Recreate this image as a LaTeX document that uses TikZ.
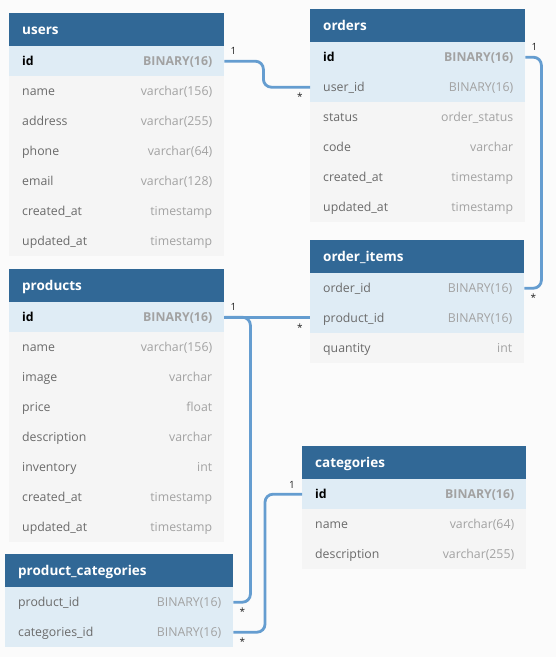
\documentclass[tikz,border=0pt]{standalone}
\usepackage{fontspec}
\setmainfont{Open Sans}
\definecolor{bgc}{HTML}{FBFBFB}
\definecolor{hdr}{HTML}{316896}
\definecolor{hlc}{HTML}{DFECF5}
\definecolor{rowc}{HTML}{F5F5F5}
\definecolor{namecol}{HTML}{6A6A6A}
\definecolor{typecol}{HTML}{A2A2A2}
\definecolor{connc}{HTML}{659DD0}
\definecolor{lblc}{HTML}{222222}
\newcommand\erow[7]{\node[erow,fill=#5,minimum width=#4,text width=#4pt] (#1) at (#2,#3) {\noindent\hspace*{13pt}\textcolor{namecol}{#6}\hfill\textcolor{typecol}{#7}\hspace*{12pt}\rule[-3.5pt]{0pt}{15.5pt}};}
\newcommand\erowpk[6]{\node[erow,fill=hlc,minimum width=#4,text width=#4pt] (#1) at (#2,#3) {\noindent\hspace*{13pt}\textbf{\textcolor{black}{#5}}\hfill\textbf{\textcolor{typecol}{#6}}\hspace*{12pt}\rule[-3.5pt]{0pt}{15.5pt}};}
\newcommand\ehead[5]{\node[ehead,minimum width=#4,text width=#4pt] (#1) at (#2,#3) {\noindent\hspace*{13pt}\textbf{#5}\rule[-3.5pt]{0pt}{16.5pt}};}
\begin{document}
\begin{tikzpicture}[x=1pt,y=-1pt,
  erow/.style={anchor=north west,inner sep=0pt,minimum height=30pt,
    font=\fontsize{12.3}{14}\selectfont},
  ehead/.style={anchor=north west,inner sep=0pt,minimum height=33pt,fill=hdr,
    text=white,font=\fontsize{13.5}{16}\selectfont},
  conn/.style={draw=connc,line width=2.8pt,rounded corners=8pt},
  card/.style={inner sep=0pt,text=lblc,font=\fontsize{10}{12}\selectfont}]
\fill[bgc] (0,0) rectangle (556,657);
\useasboundingbox (0,0) rectangle (556,657);

% users
\ehead{users}{9}{13}{215}{users}
\erowpk{users-id}{9}{46}{215}{id}{BINARY(16)}
\erow{users-name}{9}{76}{215}{rowc}{name}{varchar(156)}
\erow{users-address}{9}{106}{215}{rowc}{address}{varchar(255)}
\erow{users-phone}{9}{136}{215}{rowc}{phone}{varchar(64)}
\erow{users-email}{9}{166}{215}{rowc}{email}{varchar(128)}
\erow{users-created}{9}{196}{215}{rowc}{created\_at}{timestamp}
\erow{users-updated}{9}{226}{215}{rowc}{updated\_at}{timestamp}

% orders
\ehead{orders}{310}{9}{215}{orders}
\erowpk{orders-id}{310}{42}{215}{id}{BINARY(16)}
\erow{orders-userid}{310}{72}{215}{hlc}{user\_id}{BINARY(16)}
\erow{orders-status}{310}{102}{215}{rowc}{status}{order\_status}
\erow{orders-code}{310}{132}{215}{rowc}{code}{varchar}
\erow{orders-created}{310}{162}{215}{rowc}{created\_at}{timestamp}
\erow{orders-updated}{310}{192}{215}{rowc}{updated\_at}{timestamp}

% order_items
\ehead{oi}{310}{240}{214}{order\_items}
\erow{oi-orderid}{310}{273}{214}{hlc}{order\_id}{BINARY(16)}
\erow{oi-productid}{310}{303}{214}{hlc}{product\_id}{BINARY(16)}
\erow{oi-quantity}{310}{333}{214}{rowc}{quantity}{int}

% products
\ehead{products}{9}{269}{215}{products}
\erowpk{products-id}{9}{302}{215}{id}{BINARY(16)}
\erow{products-name}{9}{332}{215}{rowc}{name}{varchar(156)}
\erow{products-image}{9}{362}{215}{rowc}{image}{varchar}
\erow{products-price}{9}{392}{215}{rowc}{price}{float}
\erow{products-desc}{9}{422}{215}{rowc}{description}{varchar}
\erow{products-inv}{9}{452}{215}{rowc}{inventory}{int}
\erow{products-created}{9}{482}{215}{rowc}{created\_at}{timestamp}
\erow{products-updated}{9}{512}{215}{rowc}{updated\_at}{timestamp}

% product_categories
\ehead{pc}{5}{554}{228}{product\_categories}
\erow{pc-productid}{5}{587}{228}{hlc}{product\_id}{BINARY(16)}
\erow{pc-catid}{5}{617}{228}{hlc}{categories\_id}{BINARY(16)}

% categories
\ehead{cat}{302}{446}{224}{categories}
\erowpk{cat-id}{302}{479}{224}{id}{BINARY(16)}
\erow{cat-name}{302}{509}{224}{rowc}{name}{varchar(64)}
\erow{cat-desc}{302}{539}{224}{rowc}{description}{varchar(255)}

% connectors
\draw[conn] (users-id.east) -- ++(39,0) |- (orders-userid.west);
\draw[conn] (orders-id.east) -- ++(16,0) |- (oi-orderid.east);
\draw[conn] (products-id.east) -- (oi-productid.west |- products-id.east);
\draw[conn] (products-id.east) -- ++(26,0) |- (pc-productid.east);
\draw[conn] (cat-id.west) -- ++(-37,0) |- (pc-catid.east);

% cardinalities
\node[card] (c1) at ([shift={(9,-10)}]users-id.east) {1};
\node[card] (c2) at ([shift={(-10,9)}]orders-userid.west) {*};
\node[card] (c3) at ([shift={(9,-10)}]orders-id.east) {1};
\node[card] (c4) at ([shift={(9,9)}]oi-orderid.east) {*};
\node[card] (c5) at ([shift={(9,-10)}]products-id.east) {1};
\node[card] (c6) at ([shift={(-10,9)}]oi-productid.west) {*};
\node[card] (c7) at ([shift={(9,9)}]pc-productid.east) {*};
\node[card] (c8) at ([shift={(-10,-9)}]cat-id.west) {1};
\node[card] (c9) at ([shift={(9,9)}]pc-catid.east) {*};
\end{tikzpicture}
\end{document}
